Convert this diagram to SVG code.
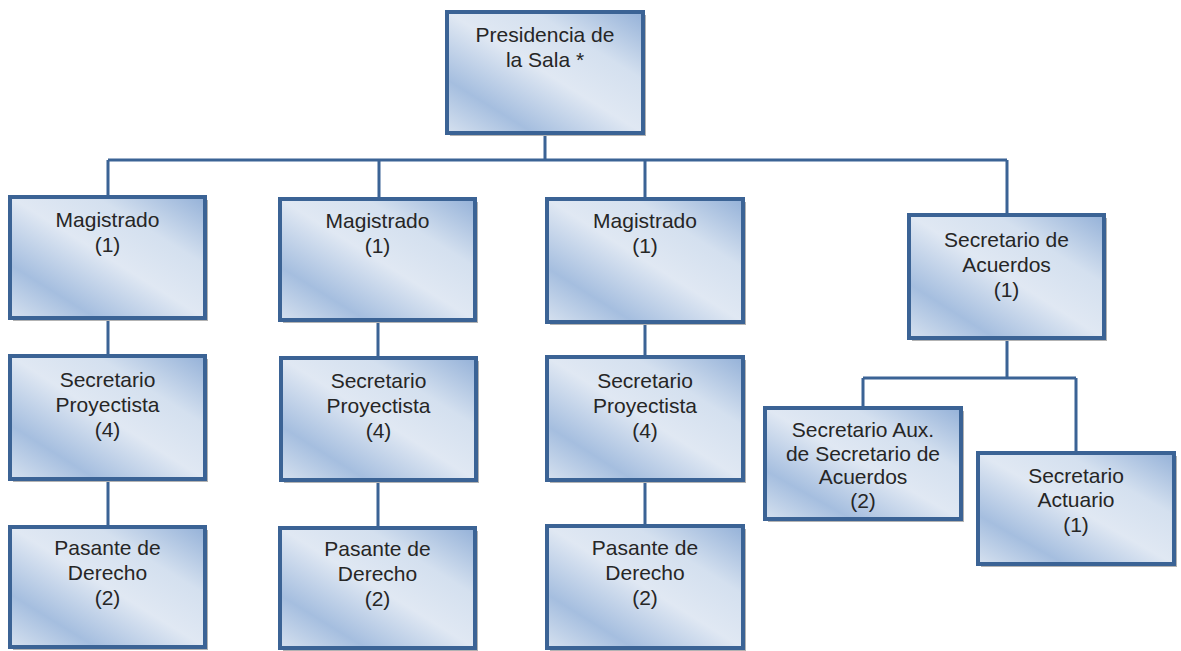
<svg xmlns="http://www.w3.org/2000/svg" width="1181" height="651" viewBox="0 0 1181 651">
<style>
.box{fill:url(#g);stroke:#3b6395;stroke-width:4}
.sh{fill:#b3b3b3}
.t{font-family:"Liberation Sans",Arial,sans-serif;font-size:21px;fill:#262626;text-anchor:middle}
.c{fill:none;stroke:#3b6395;stroke-width:3}
</style>
<defs>
<linearGradient id="g" x1="0" y1="1" x2="1" y2="0">
<stop offset="0" stop-color="#d6e1ef"/>
<stop offset="0.22" stop-color="#a5bedf"/>
<stop offset="0.5" stop-color="#e0e8f3"/>
<stop offset="0.72" stop-color="#d4e0ef"/>
<stop offset="1" stop-color="#94b1d8"/>
</linearGradient>
</defs>
<rect width="1181" height="651" fill="#fff"/>
<g id="connectors">
<path class="c" d="M545 133V160M108 160H1007M108 160V197M379 160V199M645 160V199M1007 160V215"/>
<path class="c" d="M108 318V356M108 479V527M378 320V358M378 480V528M645 322V357M645 480V526"/>
<path class="c" d="M1007 338V378M863 378H1076M863 378V408M1076 378V453"/>
</g>
<g id="presidencia">
<rect class="sh" x="450" y="15" width="196" height="121"/>
<rect class="box" x="447" y="12" width="196" height="121"/>
<text class="t" x="545" y="42">Presidencia de</text>
<text class="t" x="545" y="67">la Sala *</text>
</g>
<g id="magistrado1">
<rect class="sh" x="13" y="200" width="195" height="121"/>
<rect class="box" x="10" y="197" width="195" height="121"/>
<text class="t" x="107.5" y="227">Magistrado</text>
<text class="t" x="107.5" y="252">(1)</text>
</g>
<g id="magistrado2">
<rect class="sh" x="283" y="202" width="195" height="121"/>
<rect class="box" x="280" y="199" width="195" height="121"/>
<text class="t" x="377.5" y="228">Magistrado</text>
<text class="t" x="377.5" y="253">(1)</text>
</g>
<g id="magistrado3">
<rect class="sh" x="550" y="202" width="196" height="123"/>
<rect class="box" x="547" y="199" width="196" height="123"/>
<text class="t" x="645" y="228">Magistrado</text>
<text class="t" x="645" y="253">(1)</text>
</g>
<g id="acuerdos">
<rect class="sh" x="912" y="218" width="195" height="123"/>
<rect class="box" x="909" y="215" width="195" height="123"/>
<text class="t" x="1006.5" y="247">Secretario de</text>
<text class="t" x="1006.5" y="272">Acuerdos</text>
<text class="t" x="1006.5" y="297">(1)</text>
</g>
<g id="proyectista1">
<rect class="sh" x="13" y="359" width="195" height="123"/>
<rect class="box" x="10" y="356" width="195" height="123"/>
<text class="t" x="107.5" y="387">Secretario</text>
<text class="t" x="107.5" y="412">Proyectista</text>
<text class="t" x="107.5" y="437">(4)</text>
</g>
<g id="proyectista2">
<rect class="sh" x="284" y="361" width="195" height="122"/>
<rect class="box" x="281" y="358" width="195" height="122"/>
<text class="t" x="378.5" y="388">Secretario</text>
<text class="t" x="378.5" y="413">Proyectista</text>
<text class="t" x="378.5" y="438">(4)</text>
</g>
<g id="proyectista3">
<rect class="sh" x="550" y="360" width="196" height="123"/>
<rect class="box" x="547" y="357" width="196" height="123"/>
<text class="t" x="645" y="388">Secretario</text>
<text class="t" x="645" y="413">Proyectista</text>
<text class="t" x="645" y="438">(4)</text>
</g>
<g id="pasante1">
<rect class="sh" x="13" y="530" width="195" height="120"/>
<rect class="box" x="10" y="527" width="195" height="120"/>
<text class="t" x="107.5" y="555">Pasante de</text>
<text class="t" x="107.5" y="580">Derecho</text>
<text class="t" x="107.5" y="605">(2)</text>
</g>
<g id="pasante2">
<rect class="sh" x="283" y="531" width="195" height="120"/>
<rect class="box" x="280" y="528" width="195" height="120"/>
<text class="t" x="377.5" y="556">Pasante de</text>
<text class="t" x="377.5" y="581">Derecho</text>
<text class="t" x="377.5" y="606">(2)</text>
</g>
<g id="pasante3">
<rect class="sh" x="550" y="529" width="196" height="122"/>
<rect class="box" x="547" y="526" width="196" height="122"/>
<text class="t" x="645" y="555">Pasante de</text>
<text class="t" x="645" y="580">Derecho</text>
<text class="t" x="645" y="605">(2)</text>
</g>
<g id="aux">
<rect class="sh" x="768" y="411" width="196" height="111"/>
<rect class="box" x="765" y="408" width="196" height="111"/>
<text class="t" x="863" y="437">Secretario Aux.</text>
<text class="t" x="863" y="461">de Secretario de</text>
<text class="t" x="863" y="484">Acuerdos</text>
<text class="t" x="863" y="508">(2)</text>
</g>
<g id="actuario">
<rect class="sh" x="981" y="456" width="196" height="111"/>
<rect class="box" x="978" y="453" width="196" height="111"/>
<text class="t" x="1076" y="483">Secretario</text>
<text class="t" x="1076" y="507">Actuario</text>
<text class="t" x="1076" y="532">(1)</text>
</g>
</svg>
